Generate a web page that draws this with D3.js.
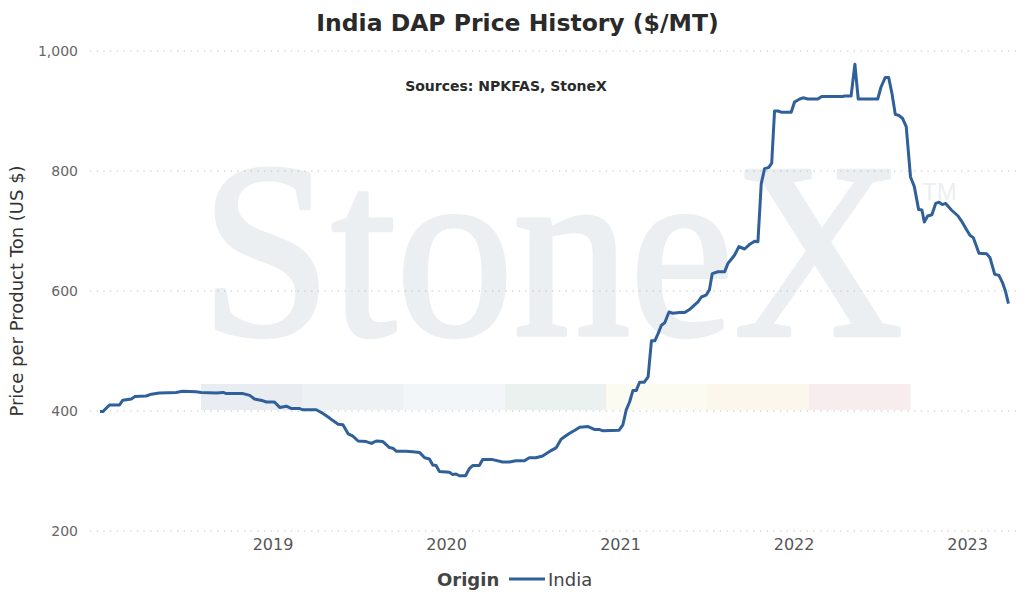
<!DOCTYPE html>
<html>
<head>
<meta charset="utf-8">
<script src="https://cdn.jsdelivr.net/npm/d3@7"></script>
<style>
  body { margin: 0; background: #fff; }
  text { font-family: "DejaVu Sans", Verdana, sans-serif; }
</style>
</head>
<body>
<div id="vis-container"></div>
<script>
// weekly India DAP price
let dates = [
  "2018-01-03","2018-01-09","2018-01-23","2018-02-13","2018-02-20","2018-03-10","2018-03-17","2018-04-10",
  "2018-04-21","2018-05-08","2018-06-12","2018-06-26","2018-07-24","2018-08-04","2018-09-05","2018-09-19",
  "2018-09-26","2018-10-31","2018-11-14","2018-11-24","2018-12-12","2018-12-19","2019-01-05","2019-01-16",
  "2019-01-30","2019-02-10","2019-02-27","2019-03-06","2019-04-03","2019-04-17","2019-04-28","2019-05-08",
  "2019-05-19","2019-05-29","2019-06-09","2019-06-19","2019-06-30","2019-07-17","2019-07-28","2019-08-07",
  "2019-08-21","2019-09-04","2019-09-11","2019-09-18","2019-10-09","2019-10-23","2019-11-06","2019-11-17",
  "2019-11-27","2019-12-04","2019-12-11","2019-12-18","2020-01-08","2020-01-15","2020-01-22","2020-01-29",
  "2020-02-11","2020-02-19","2020-02-26","2020-03-11","2020-03-18","2020-04-08","2020-04-29","2020-05-13",
  "2020-05-27","2020-06-14","2020-06-24","2020-07-08","2020-07-22","2020-08-09","2020-08-20","2020-08-30",
  "2020-09-06","2020-09-17","2020-09-28","2020-10-08","2020-10-26","2020-11-09","2020-11-19","2020-11-26",
  "2020-12-30","2021-01-07","2021-01-14","2021-01-21","2021-01-28","2021-02-04","2021-02-11","2021-02-21",
  "2021-03-01","2021-03-08","2021-03-15","2021-03-22","2021-03-29","2021-04-05","2021-04-14","2021-04-22",
  "2021-05-06","2021-05-17","2021-05-27","2021-06-07","2021-06-14","2021-06-21","2021-07-01","2021-07-08",
  "2021-07-14","2021-07-26","2021-08-09","2021-08-16","2021-08-23","2021-08-30","2021-09-08","2021-09-20",
  "2021-10-01","2021-10-11","2021-10-18","2021-10-25","2021-11-01","2021-11-10","2021-11-16","2021-11-22",
  "2021-11-29","2021-12-06","2021-12-27","2022-01-03","2022-01-14","2022-01-21","2022-01-31","2022-02-21",
  "2022-03-01","2022-04-14","2022-04-18","2022-05-02","2022-05-10","2022-05-17","2022-06-27","2022-07-04",
  "2022-07-13","2022-07-20","2022-07-27","2022-08-03","2022-08-10","2022-08-18","2022-08-26","2022-09-04",
  "2022-09-08","2022-09-12","2022-09-21","2022-09-28","2022-10-03","2022-10-10","2022-10-19","2022-10-27",
  "2022-11-03","2022-11-10","2022-11-17","2022-11-29","2022-12-13","2022-12-20","2022-12-31","2023-01-07",
  "2023-01-14","2023-01-26","2023-02-11","2023-02-18","2023-02-28","2023-03-09","2023-03-17","2023-03-23",
  "2023-03-29"
];
let india = [
  399,399,410,410,418,420,424,425,
  428,430,431,433,432,431,430,431,
  429,429,426,420,417,415,415,406,
  408,404,404,402,402,396,390,384,
  378,377,362,358,350,349,346,350,
  349,339,338,333,333,332,331,322,
  320,310,309,299,298,294,295,292,
  292,304,309,309,319,319,315,315,
  317,317,322,322,325,334,339,353,
  357,363,368,373,374,369,369,367,
  368,377,402,415,434,434,448,448,
  457,517,517,529,543,547,565,563,
  564,564,569,577,582,590,593,602,
  629,632,632,646,653,660,674,670,
  678,683,682,779,804,806,813,900,
  900,898,898,915,920,922,920,920,
  924,924,925,925,978,920,920,940,
  956,956,929,894,893,888,874,790,
  782,774,736,735,715,725,727,746,
  748,744,746,735,725,717,702,693,
  689,663,662,656,628,626,613,599,
  579
];
let yTicks = [200, 400, 600, 800, 1000];
let xTicks = ["2019-01-01","2020-01-01","2021-01-01","2022-01-01","2023-01-01"];
let xDomain = ["2017-12-13","2023-04-16"];
let logoColors = ["#e9edf1","#edf1f4","#f2f6f9","#ebf1ef","#fbfbf2","#fbf7ec","#f8edee"];

let W = 1035, H = 594;
let margin = {top:51, right:18, bottom:63, left:90};
let width = W - margin.left - margin.right;
let height = H - margin.top - margin.bottom;

let parse = d3.timeParse("%Y-%m-%d");
let data = dates.map((d,i)=>({date: parse(d), value: india[i]}));

let svg = d3.select("#vis-container")
  .append("svg")
  .attr("width", W)
  .attr("height", H);

let g = svg.append("g")
  .attr("transform", `translate(${margin.left}, ${margin.top})`);

let x = d3.scaleTime()
  .domain(xDomain.map(parse))
  .range([0, width]);

let y = d3.scaleLinear()
  .domain([200, 1000])
  .range([height, 0]);

// watermark logo: colour strip + StoneX text
let wm = g.append("g").attr("class", "watermark");
let band = d3.scaleBand()
  .domain(d3.range(logoColors.length))
  .range([111, 820]);
wm.selectAll("rect")
  .data(logoColors)
  .enter()
  .append("rect")
  .attr("x", (d,i)=>band(i))
  .attr("y", 333)
  .attr("width", band.bandwidth() + 0.5)
  .attr("height", 26)
  .attr("fill", d=>d);

wm.append("text")
  .attr("transform", "translate(111, 284) scale(1, 1.07)")
  .style("font-family", "'Liberation Serif', 'Times New Roman', serif")
  .style("font-size", "234px")
  .attr("fill", "#ebeff2")
  .attr("stroke", "#ebeff2")
  .attr("stroke-width", 4)
  .attr("stroke-linejoin", "round")
  .text("StoneX");

wm.append("text")
  .attr("x", 832)
  .attr("y", 149)
  .style("font-family", "'Liberation Sans', Arial, sans-serif")
  .style("font-size", "24px")
  .attr("fill", "#ebeff2")
  .text("TM");

// gridlines
g.append("g")
  .attr("class", "grid")
  .selectAll("line")
  .data(yTicks)
  .enter()
  .append("line")
  .attr("x1", 0)
  .attr("x2", width)
  .attr("y1", d=>y(d))
  .attr("y2", d=>y(d))
  .attr("stroke", "#bbb")
  .attr("stroke-width", 1)
  .attr("stroke-dasharray", "1.2,5.5");

// left axis
let leftAxis = d3.axisLeft(y)
  .tickValues(yTicks)
  .tickSize(0)
  .tickPadding(12)
  .tickFormat(d3.format(","));

g.append("g")
  .attr("class", "left axis")
  .call(leftAxis)
  .call(a=>a.select(".domain").remove())
  .selectAll("text")
    .style("font-size", "14px")
    .attr("fill", "#666");

// bottom axis
let bottomAxis = d3.axisBottom(x)
  .tickValues(xTicks.map(parse))
  .tickSize(0)
  .tickPadding(8)
  .tickFormat(d3.timeFormat("%Y"));

g.append("g")
  .attr("class", "bottom axis")
  .attr("transform", `translate(0,${height})`)
  .call(bottomAxis)
  .call(a=>a.select(".domain").remove())
  .selectAll("text")
    .style("font-size", "16px")
    .attr("fill", "#555");

// the line
let line = d3.line()
  .x(d=>x(d.date))
  .y(d=>y(d.value));

g.append("path")
  .datum(data)
  .attr("fill", "none")
  .attr("stroke", "#30609a")
  .attr("stroke-width", 3)
  .attr("stroke-linejoin", "round")
  .attr("d", line);

// title + source note
svg.append("text")
  .attr("x", W/2)
  .attr("y", 31)
  .attr("text-anchor", "middle")
  .style("font-size", "23.5px")
  .style("font-weight", "bold")
  .attr("fill", "#2a2a2a")
  .text("India DAP Price History ($/MT)");

svg.append("text")
  .attr("x", 506)
  .attr("y", 91)
  .attr("text-anchor", "middle")
  .style("font-size", "14px")
  .style("font-weight", "bold")
  .attr("fill", "#2a2a2a")
  .text("Sources: NPKFAS, StoneX");

// y axis label
svg.append("text")
  .attr("transform", `translate(23, ${margin.top + height/2}) rotate(-90)`)
  .attr("text-anchor", "middle")
  .style("font-size", "18px")
  .attr("fill", "#333")
  .text("Price per Product Ton (US $)");

// legend
let leg = svg.append("g").attr("transform", "translate(437, 586)");
leg.append("text")
  .style("font-size", "18px")
  .style("font-weight", "bold")
  .attr("fill", "#444")
  .text("Origin");
leg.append("line")
  .attr("x1", 72).attr("x2", 108)
  .attr("y1", -7).attr("y2", -7)
  .attr("stroke", "#30609a")
  .attr("stroke-width", 3);
leg.append("text")
  .attr("x", 111)
  .style("font-size", "18px")
  .attr("fill", "#444")
  .text("India");
</script>
</body>
</html>
